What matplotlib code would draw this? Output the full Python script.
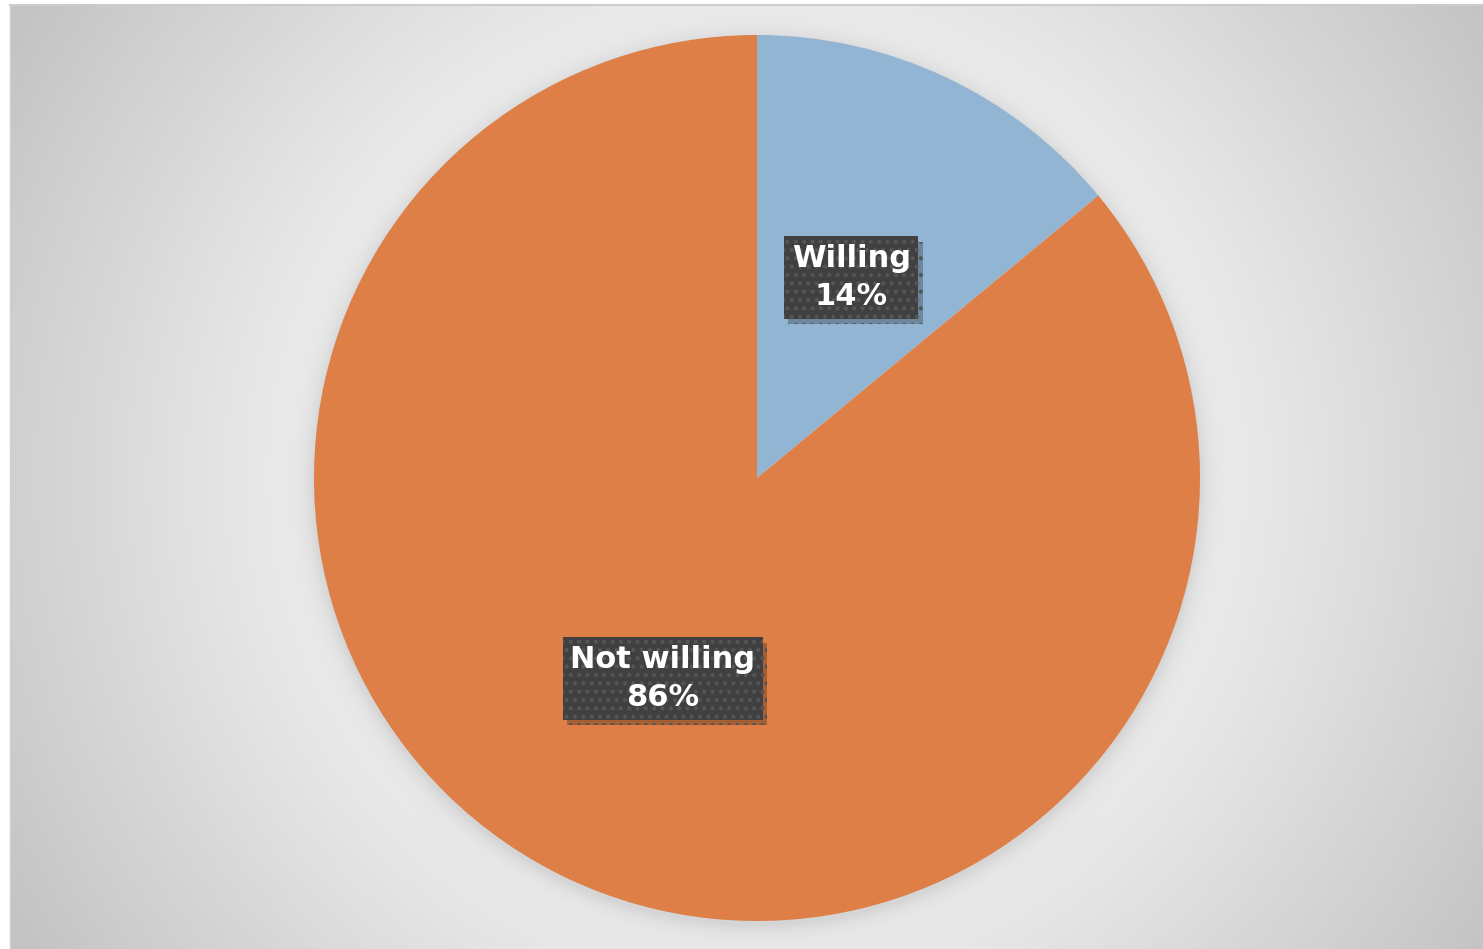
import numpy as np
import matplotlib.pyplot as plt
import matplotlib.patheffects as pe
from matplotlib.lines import Line2D

# survey answers
categories = ["Willing", "Not willing"]
shares = [14, 86]
colors = ["#93b5d4", "#dd7f47"]

W, H = 1483, 949
fig = plt.figure(figsize=(W / 100, H / 100), dpi=100, facecolor="white")

# chart area background: grey gradient, light round the pie, plus a soft glow under the pie
x0, y0, x1, y1 = 10, 5, W, H
cx, cy, R = 757, 478, 443
xx, yy = np.meshgrid(np.arange(x0, x1) + 0.5, np.arange(y0, y1) + 0.5)
r = np.sqrt((xx - cx) ** 2 + (yy - cy) ** 2)
rmax = np.sqrt(736 ** 2 + 472 ** 2)
t = np.clip((r - 400) / (rmax - 400), 0, 1)
bg = 242 - 47 * t
dist = np.sqrt((xx - cx) ** 2 + (yy - cy - 4) ** 2)
glow = np.where(dist > R - 5, 24 * np.exp(-np.clip(dist - R, 0, None) / 11), 0)
bg = np.clip(bg - glow, 0, 255) / 255.0

bg_ax = fig.add_axes([x0 / W, 0, (x1 - x0) / W, (y1 - y0) / H])
bg_ax.imshow(np.dstack([bg, bg, bg]), aspect="auto", interpolation="bilinear")
bg_ax.set_axis_off()
top = 1 - y0 / H
fig.add_artist(Line2D([x0 / W, 1], [top, top], transform=fig.transFigure, color="#cccccc", lw=1.5))
fig.add_artist(Line2D([x0 / W, x0 / W], [0, top], transform=fig.transFigure, color="#cfcfcf", lw=1))

ax = fig.add_axes([(cx - R) / W, (H - cy - R) / H, 2 * R / W, 2 * R / H])
labels = [f"{c}\n{v}%" for c, v in zip(categories, shares)]
wedges, texts = ax.pie(shares, labels=labels, colors=colors, startangle=90, counterclock=False,
                       labeldistance=0.5, radius=1.0,
                       wedgeprops=dict(linewidth=0),
                       textprops=dict(color="white", fontsize=22, fontweight="bold",
                                      ha="center", va="center", linespacing=1.4))
ax.set_xlim(-1, 1)
ax.set_ylim(-1, 1)
ax.set_axis_off()

plt.rcParams["hatch.linewidth"] = 1.8
for t in texts:
    t.set_bbox(dict(boxstyle="square,pad=0.25", fc="#404040", ec="#555555", lw=0, hatch=".."))
    t.get_bbox_patch().set_path_effects([
        pe.SimplePatchShadow(offset=(3, -4), shadow_rgbFace="black", alpha=0.25), pe.Normal()])

fig.savefig("out.png", dpi=100, facecolor="white")
